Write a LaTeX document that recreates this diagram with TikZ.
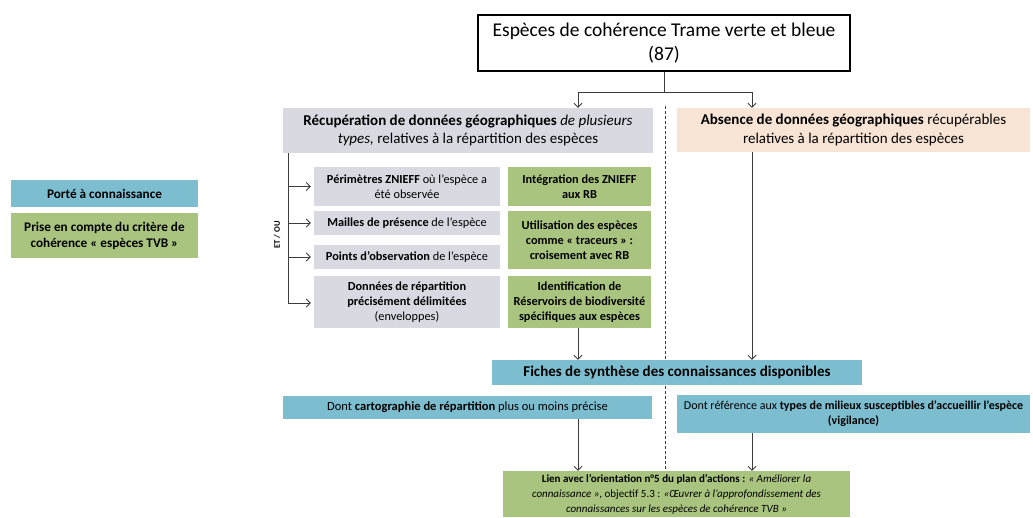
\documentclass[tikz,border=0pt]{standalone}
\usepackage{fontspec}
\setmainfont{Carlito}
\usetikzlibrary{arrows.meta}
\definecolor{greybox}{RGB}{217,217,226}
\definecolor{peachbox}{RGB}{248,228,212}
\definecolor{greenbox}{RGB}{169,196,126}
\definecolor{bluebox}{RGB}{124,189,207}
\definecolor{lineclr}{RGB}{60,60,60}
\tikzset{
  box/.style={inner sep=0pt, align=center, text=black},
  greyb/.style={box, fill=greybox},
  peachb/.style={box, fill=peachbox},
  greenb/.style={box, fill=greenbox},
  blueb/.style={box, fill=bluebox},
  fs/.style={font=\fontsize{12.3}{15}\selectfont},
  fsb/.style={font=\bfseries\fontsize{12.3}{15}\selectfont},
  fm/.style={font=\fontsize{15}{18.5}\selectfont},
  conn/.style={draw=lineclr, line width=0.8pt},
  arr/.style={conn, -{Straight Barb[length=4pt,width=8pt]}},
}
\begin{document}
\begin{tikzpicture}[x=1pt,y=-1pt]
\useasboundingbox (0,0) rectangle (1033,517);
% dashed separator (behind boxes)
\coordinate (dtop) at (665,106);
\coordinate (dbot) at (665,471);
\draw[conn, dashed, line width=0.7pt, dash pattern=on 3pt off 2pt] (dtop) -- (dbot);

% top box
\node[box, draw=black, line width=1.2pt, fill=white, minimum width=372, minimum height=56,
  font=\fontsize{19.5}{24}\selectfont] (top) at (664,43) {Espèces de cohérence Trame verte et bleue\\(87)};

% second level
\node[greyb, fm, minimum width=370, minimum height=45] (rec) at (468,130.5)
  {\textbf{Récupération de données géographiques} \textit{de plusieurs}\\\textit{types,} relatives à la répartition des espèces};
\node[peachb, fm, minimum width=353, minimum height=44] (abs) at (853.5,130)
  {\textbf{Absence de données géographiques} récupérables\\relatives à la répartition des espèces};

% grey small boxes
\node[greyb, fs, minimum width=186, minimum height=39] (p1) at (407,186.5)
  {\textbf{Périmètres ZNIEFF} où l’espèce a\\été observée};
\node[greyb, fs, minimum width=186, minimum height=24] (p2) at (407,223)
  {\textbf{Mailles de présence} de l’espèce};
\node[greyb, fs, minimum width=186, minimum height=24] (p3) at (407,257)
  {\textbf{Points d’observation} de l’espèce};
\node[greyb, fs, minimum width=186, minimum height=52] (p4) at (407,302)
  {\textbf{Données de répartition}\\\textbf{précisément délimitées}\\(enveloppes)};

% green boxes
\node[greenb, fsb, minimum width=143, minimum height=39] (g1) at (579.5,186.5)
  {Intégration des ZNIEFF\\aux RB};
\node[greenb, fsb, minimum width=143, minimum height=58] (g2) at (579.5,240)
  {Utilisation des espèces\\comme « traceurs » :\\croisement avec RB};
\node[greenb, fsb, minimum width=143, minimum height=52] (g3) at (579.5,302)
  {Identification de\\Réservoirs de biodiversité\\spécifiques aux espèces};

% ET / OU
\node[box, rotate=90, font=\bfseries\fontsize{8.5}{10}\selectfont] (etou) at (277,235) {ET / OU};

% fiches
\node[blueb, font=\bfseries\fontsize{15}{18}\selectfont, minimum width=370, minimum height=25] (fiches) at (677,372.5)
  {Fiches de synthèse des connaissances disponibles};
\node[blueb, font=\fontsize{12.5}{15}\selectfont, minimum width=369, minimum height=23] (dc) at (467.5,407.5)
  {Dont \textbf{cartographie de répartition} plus ou moins précise};
\node[blueb, font=\fontsize{12}{15}\selectfont, minimum width=353, minimum height=38] (dr) at (853.5,414)
  {Dont référence aux \textbf{types de milieux susceptibles d’accueillir l’espèce}\\\textbf{(vigilance)}};

% final
\node[greenb, font=\fontsize{11}{15}\selectfont, minimum width=347, minimum height=46] (final) at (676.5,494)
  {\textbf{Lien avec l’orientation n°5 du plan d’actions :} \textit{« Améliorer la}\\\textit{connaissance »}, objectif 5.3 : \textit{«Œuvrer à l’approfondissement des}\\\textit{connaissances sur les espèces de cohérence TVB »}};

% legend
\node[blueb, font=\bfseries\fontsize{13.2}{16}\selectfont, minimum width=187, minimum height=27] (leg1) at (104.5,193.5)
  {Porté à connaissance};
\node[greenb, font=\bfseries\fontsize{13.2}{16}\selectfont, minimum width=187, minimum height=45] (leg2) at (104.5,235.5)
  {Prise en compte du critère de\\cohérence « espèces TVB »};

% connectors top
\coordinate (split) at (664,92);
\coordinate (splitL) at (578,92);
\coordinate (splitR) at (752,92);
\draw[conn] (top.south) -- (split);
\draw[conn] (splitL) -- (splitR);
\draw[arr] (splitL) -- (splitL |- rec.north);
\draw[arr] (splitR) -- (splitR |- abs.north);

% left branch
\coordinate (bT) at (288,153);
\coordinate (bL) at (288,303);
\draw[conn] (bT) -- (bL);
\draw[arr, shorten >=3pt] (bT |- p1.west) -- (p1.west);
\draw[arr, shorten >=3pt] (bT |- p2.west) -- (p2.west);
\draw[arr, shorten >=3pt] (bT |- p3.west) -- (p3.west);
\draw[arr, shorten >=3pt] (bL) -- (p4.west |- bL);

% down to fiches
\coordinate (gL) at (578,328);
\coordinate (aR) at (752,152);
\draw[arr] (gL) -- (gL |- fiches.north);
\draw[arr] (aR) -- (aR |- fiches.north);

% down to final
\coordinate (dcL) at (578,419);
\coordinate (drR) at (752,433);
\draw[arr] (dcL) -- (dcL |- final.north);
\draw[arr] (drR) -- (drR |- final.north);
\end{tikzpicture}
\end{document}
